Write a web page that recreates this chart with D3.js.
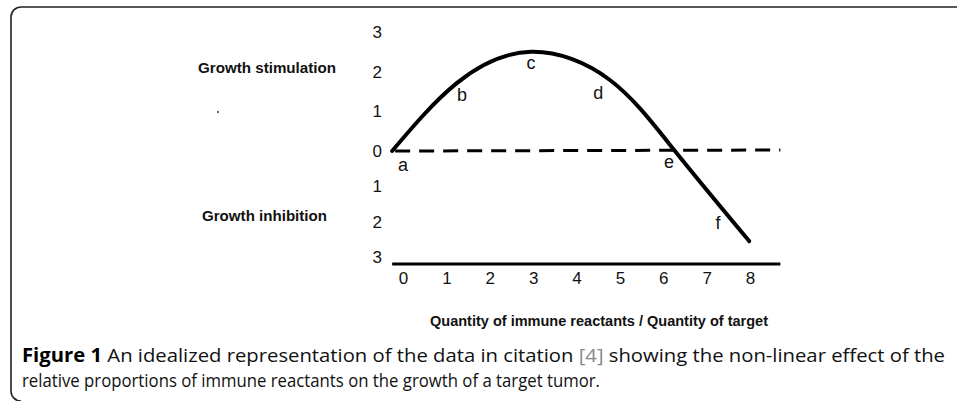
<!DOCTYPE html>
<html>
<head>
<meta charset="utf-8">
<script src="https://cdn.jsdelivr.net/npm/d3@7"></script>
<style>
  body { margin: 0; background: #fff; }
  svg { display: block; }
</style>
</head>
<body>
<div class="chart"></div>
<script>
// Data
const xTicks = [0, 1, 2, 3, 4, 5, 6, 7, 8];
const yTicks = [3, 2, 1, 0, -1, -2, -3];
const curveX = [-0.25, 1.24, 2.95, 4.77, 6.27, 7.98];
const curveY = [0, 1.71, 2.5, 1.79, 0, -2.55];
const pointNames = ["a", "b", "c", "d", "e", "f"];
const pointX = [0, 1.36, 2.95, 4.5, 6.13, 7.26];
const pointY = [-0.4, 1.41, 2.22, 1.46, -0.31, -2.04];
const xStart = -0.25;
const xEnd = 8.7;
const baseline = -3.2;

const width = 957;
const height = 401;

const svg = d3
  .select(".chart")
  .append("svg")
  .attr("width", width)
  .attr("height", height);

// frame with rounded left corners
svg
  .append("path")
  .attr("d", "M957,7 H21 A10,10 0 0 0 11,17 V391 A10,10 0 0 0 21,401")
  .attr("fill", "none")
  .attr("stroke", "#222")
  .attr("stroke-width", 1.6);

const xScale = d3.scaleLinear().domain([0, 8]).range([403, 750]);
// upper half and lower half were drawn with different spacing
const yScale = d3.scaleLinear().domain([-3, 0, 3]).range([257, 151, 32]);

// y axis labels
const yAxis = d3
  .axisLeft(yScale)
  .tickValues(yTicks)
  .tickSize(0)
  .tickPadding(0)
  .tickFormat((d) => Math.abs(d));

const yAxisG = svg
  .append("g")
  .attr("transform", "translate(382,0)")
  .call(yAxis);
yAxisG.select(".domain").remove();
yAxisG
  .selectAll("text")
  .attr("font-family", "Liberation Sans, Arial, sans-serif")
  .attr("font-size", 17)
  .attr("fill", "#111");

// x axis labels
const xAxis = d3
  .axisBottom(xScale)
  .tickValues(xTicks)
  .tickSize(0)
  .tickPadding(8)
  .tickFormat(d3.format("d"));

const xAxisG = svg
  .append("g")
  .attr("transform", `translate(0,${yScale(baseline)})`)
  .call(xAxis);
xAxisG.select(".domain").remove();
xAxisG
  .selectAll("text")
  .attr("font-family", "Liberation Sans, Arial, sans-serif")
  .attr("font-size", 17)
  .attr("fill", "#111");

// base line
svg
  .append("line")
  .attr("x1", xScale(xStart))
  .attr("x2", xScale(xEnd))
  .attr("y1", yScale(baseline))
  .attr("y2", yScale(baseline))
  .attr("stroke", "#000")
  .attr("stroke-width", 3);

// dashed zero line
svg
  .append("line")
  .attr("x1", xScale(xStart) + 3)
  .attr("x2", xScale(xEnd))
  .attr("y1", yScale(0))
  .attr("y2", yScale(0) - 1)
  .attr("stroke", "#000")
  .attr("stroke-width", 3)
  .attr("stroke-dasharray", "15,9");

// response curve
const curveData = curveX.map((x, i) => ({ x: x, y: curveY[i] }));
const line = d3
  .line()
  .x((d) => xScale(d.x))
  .y((d) => yScale(d.y))
  .curve(d3.curveNatural);

svg
  .append("path")
  .datum(curveData)
  .attr("d", line)
  .attr("fill", "none")
  .attr("stroke", "#000")
  .attr("stroke-width", 4)
  .attr("stroke-linecap", "round");

// point letters
svg
  .append("g")
  .selectAll("text")
  .data(pointNames)
  .enter()
  .append("text")
  .attr("x", (d, i) => xScale(pointX[i]))
  .attr("y", (d, i) => yScale(pointY[i]))
  .attr("dy", "0.35em")
  .attr("text-anchor", "middle")
  .attr("font-family", "Liberation Sans, Arial, sans-serif")
  .attr("font-size", 18)
  .attr("fill", "#111")
  .text((d) => d);

// side labels
const sideLabel = (txt, x, y, len) =>
  svg
    .append("text")
    .attr("x", x)
    .attr("y", y)
    .attr("text-anchor", "middle")
    .attr("font-family", "Liberation Sans, Arial, sans-serif")
    .attr("font-weight", "bold")
    .attr("font-size", 14)
    .attr("textLength", len)
    .attr("lengthAdjust", "spacingAndGlyphs")
    .attr("fill", "#111")
    .text(txt);

sideLabel("Growth stimulation", 267, 73, 138);
sideLabel("Growth inhibition", 264.5, 221, 125);
sideLabel("Quantity of immune reactants / Quantity of target", 599, 326, 338);

// stray speck in the scan
svg
  .append("circle")
  .attr("cx", 218)
  .attr("cy", 112)
  .attr("r", 1)
  .attr("fill", "#333");

// caption
const cap1 = svg
  .append("text")
  .attr("x", 22)
  .attr("y", 362)
  .attr("font-family", "Open Sans, sans-serif")
  .attr("font-size", 19)
  .attr("textLength", 923)
  .attr("lengthAdjust", "spacingAndGlyphs")
  .attr("fill", "#111");
cap1.append("tspan").attr("font-weight", "bold").attr("fill", "#000").text("Figure 1");
cap1.append("tspan").text(" An idealized representation of the data in citation ");
cap1.append("tspan").attr("fill", "#888").text("[4]");
cap1.append("tspan").text(" showing the non-linear effect of the");

svg
  .append("text")
  .attr("x", 22)
  .attr("y", 387)
  .attr("font-family", "Open Sans, sans-serif")
  .attr("font-size", 19)
  .attr("textLength", 578)
  .attr("lengthAdjust", "spacingAndGlyphs")
  .attr("fill", "#111")
  .text("relative proportions of immune reactants on the growth of a target tumor.");
</script>
</body>
</html>
